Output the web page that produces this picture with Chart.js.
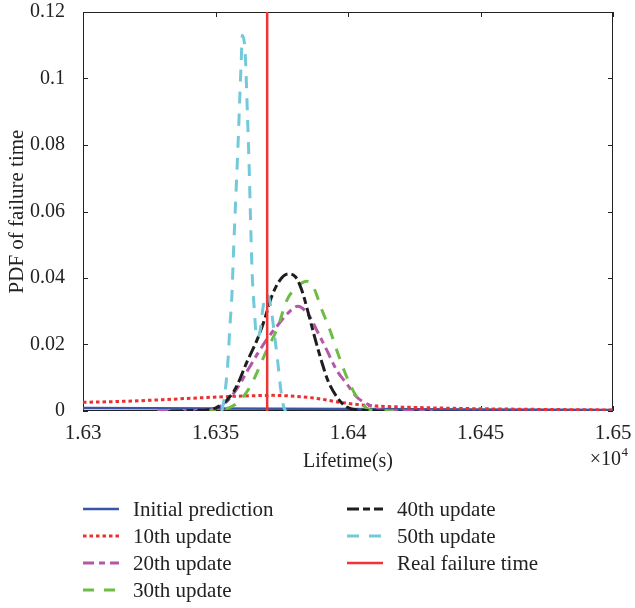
<!DOCTYPE html>
<html>
<head>
<meta charset="utf-8">
<script src="https://cdn.jsdelivr.net/npm/chart.js@4/dist/chart.umd.min.js"></script>
<style>
  body { margin: 0; background: #fff; }
  #wrap { width: 635px; height: 608px; }
</style>
</head>
<body>
<div id="wrap"><canvas id="pdf-canvas" width="635" height="608"></canvas></div>
<script>
// tick labels (lifetime is shown in units of 1e4 s)
const xTickValues = [16300, 16350, 16400, 16450, 16500];
const xTickLabels = ['1.63', '1.635', '1.64', '1.645', '1.65'];
const yTickValues = [0, 0.02, 0.04, 0.06, 0.08, 0.1, 0.12];
const yTickLabels = ['0', '0.02', '0.04', '0.06', '0.08', '0.1', '0.12'];

const seriesNames = ['Initial prediction', '10th update', '20th update', '30th update',
  '40th update', '50th update', 'Real failure time'];

const initialX = [16300, 16400, 16500];
const initialY = [0.0009, 0.0006, 0.0003];

const update10X = [16300, 16315, 16330, 16345, 16360, 16372, 16382, 16389, 16394, 16398, 16407, 16420, 16440, 16470, 16500];
const update10Y = [0.0026, 0.0029, 0.0034, 0.0040, 0.0045, 0.0047, 0.0043, 0.0037, 0.0030, 0.0025, 0.0017, 0.0012, 0.0008, 0.0005, 0.0003];

const update20X = [16328, 16344, 16350, 16354.7, 16358.4, 16362.2, 16366, 16369.7, 16373.5, 16377.3, 16381.1, 16385.6, 16388.2, 16392, 16395.7, 16399.5, 16403.3, 16408.3, 16413.2, 16432];
const update20Y = [0, 0.0002, 0.0008, 0.0032, 0.0071, 0.0123, 0.0174, 0.0219, 0.0258, 0.0294, 0.0315, 0.0283, 0.0243, 0.0183, 0.0123, 0.0082, 0.0042, 0.0017, 0.0002, 0];

const update30X = [16346, 16351.6, 16358, 16362.9, 16369.3, 16373.5, 16376.9, 16380.6, 16384.5, 16386.8, 16390.2, 16393.2, 16396.2, 16399.6, 16403.4, 16409.1, 16421];
const update30Y = [0, 0.0003, 0.0023, 0.0071, 0.0182, 0.0252, 0.0333, 0.0372, 0.0390, 0.0375, 0.0303, 0.0243, 0.0173, 0.0101, 0.0041, 0.0002, 0];

const update40X = [16333, 16344, 16350, 16357, 16362, 16366, 16368.5, 16371, 16374, 16377.4, 16380, 16382.5, 16385, 16387.5, 16390, 16392.5, 16396, 16399.5, 16405, 16414];
const update40Y = [0, 0.0002, 0.0009, 0.0060, 0.0150, 0.0220, 0.0275, 0.0340, 0.0390, 0.0412, 0.0405, 0.0365, 0.0295, 0.0220, 0.0150, 0.0090, 0.0040, 0.0012, 0.0002, 0];

const update50X = [16352.4, 16353.5, 16354.7, 16355.4, 16356.2, 16356.9, 16357.7, 16358.5, 16359.2, 16359.7, 16360.1, 16361.2, 16362, 16362.7, 16363.2, 16363.8, 16364.6, 16365.6, 16366.8, 16367.9, 16369, 16370.2, 16371.3, 16372.4, 16373.6, 16374.7, 16375.8, 16376.6];
const update50Y = [0, 0.005, 0.015, 0.025, 0.035, 0.050, 0.065, 0.080, 0.095, 0.105, 0.113, 0.1076, 0.0905, 0.0734, 0.0583, 0.042, 0.031, 0.022, 0.024, 0.031, 0.035, 0.034, 0.029, 0.022, 0.014, 0.006, 0.001, 0];

const realX = [16369.5, 16369.5];
const realY = [0, 0.12];

const FONT = 'Liberation Serif';
const INK = '#222222';

function toPoints(xs, ys) {
  return xs.map((x, i) => ({x: x, y: ys[i]}));
}

const seriesData = [
  toPoints(initialX, initialY),
  toPoints(update10X, update10Y),
  toPoints(update20X, update20Y),
  toPoints(update30X, update30Y),
  toPoints(update40X, update40Y),
  toPoints(update50X, update50Y),
  toPoints(realX, realY)
];

const lineStyles = [
  {color: '#3a55a8', width: 2.5, dash: []},
  {color: '#ec3030', width: 3, dash: [3.5, 3]},
  {color: '#b557a8', width: 3, dash: [11, 5, 6, 5]},
  {color: '#6cbd45', width: 3, dash: [11, 10]},
  {color: '#1e1e1e', width: 3, dash: [12, 4, 7, 4]},
  {color: '#72c9d9', width: 3, dash: [12, 10]},
  {color: '#ee3434', width: 2.5, dash: []}
];

// MATLAB style box with inward ticks
const axesBox = {
  id: 'axesBox',
  beforeDatasetsDraw(chart) {
    const {ctx, chartArea: a, scales: {x, y}} = chart;
    ctx.save();
    ctx.strokeStyle = INK;
    ctx.lineWidth = 1;
    ctx.strokeRect(Math.round(a.left) + 0.5, Math.round(a.top) + 0.5,
      Math.round(a.width) - 1, Math.round(a.height) - 1);
    ctx.beginPath();
    x.ticks.forEach(t => {
      const px = Math.round(x.getPixelForValue(t.value)) + 0.5;
      ctx.moveTo(px, a.bottom); ctx.lineTo(px, a.bottom - 5);
      ctx.moveTo(px, a.top); ctx.lineTo(px, a.top + 5);
    });
    y.ticks.forEach(t => {
      const py = Math.round(y.getPixelForValue(t.value)) + 0.5;
      ctx.moveTo(a.left, py); ctx.lineTo(a.left + 5, py);
      ctx.moveTo(a.right, py); ctx.lineTo(a.right - 5, py);
    });
    ctx.stroke();
    ctx.restore();
  },
  afterDraw(chart) {
    const {ctx, chartArea: a} = chart;
    ctx.save();
    ctx.fillStyle = INK;
    // exponent note under the x axis
    ctx.textBaseline = 'alphabetic';
    ctx.textAlign = 'right';
    ctx.font = '13px "' + FONT + '"';
    ctx.fillText('4', a.right + 15, a.bottom + 45);
    ctx.font = '20px "' + FONT + '"';
    ctx.fillText('\u00d710', a.right + 8, a.bottom + 54);

    // legend in two columns
    ctx.font = '21px "' + FONT + '"';
    ctx.textAlign = 'left';
    ctx.textBaseline = 'middle';
    chart.data.datasets.forEach((ds, i) => {
      const col = i < 4 ? 0 : 1;
      const row = i < 4 ? i : i - 4;
      const x0 = a.left + col * 264;
      const y0 = a.bottom + 98 + row * 27;
      ctx.beginPath();
      ctx.setLineDash(ds.borderDash);
      ctx.strokeStyle = ds.borderColor;
      ctx.lineWidth = ds.borderWidth;
      ctx.moveTo(x0, y0);
      ctx.lineTo(x0 + 36, y0);
      ctx.stroke();
      ctx.setLineDash([]);
      ctx.fillText(ds.label, x0 + 50, y0 + 1);
    });
    ctx.restore();
  }
};

Chart.defaults.font.family = FONT;
Chart.defaults.color = INK;

const chartEl = document.getElementById('pdf-canvas');
const pdfChart = new Chart(chartEl.getContext('2d'), {
  type: 'line',
  data: {
    datasets: seriesData.map((pts, i) => ({
      label: seriesNames[i],
      data: pts,
      borderColor: lineStyles[i].color,
      backgroundColor: lineStyles[i].color,
      borderWidth: lineStyles[i].width,
      borderDash: lineStyles[i].dash,
      borderCapStyle: 'butt',
      pointRadius: 0,
      fill: false,
      cubicInterpolationMode: i === 6 ? 'default' : 'monotone',
      tension: i === 6 ? 0 : 0.4,
      order: 6 - i
    }))
  },
  options: {
    responsive: false,
    animation: false,
    events: [],
    layout: {padding: {top: 12, right: 22, left: 0, bottom: 134}},
    plugins: {legend: {display: false}, tooltip: {enabled: false}},
    scales: {
      x: {
        type: 'linear',
        min: 16300,
        max: 16500,
        afterBuildTicks: scale => { scale.ticks = xTickValues.map(v => ({value: v})); },
        afterFit: scale => {
          scale.height = 63;
          scale.paddingLeft = 0;
          scale.paddingRight = 0;
        },
        ticks: {
          font: {size: 21},
          color: INK,
          padding: 2,
          maxRotation: 0,
          callback: (v, idx) => xTickLabels[idx]
        },
        grid: {display: false},
        border: {display: false},
        title: {display: true, text: 'Lifetime(s)', font: {size: 20}, color: INK, padding: {top: 0, bottom: 0}}
      },
      y: {
        type: 'linear',
        min: 0,
        max: 0.12,
        afterBuildTicks: scale => { scale.ticks = yTickValues.map(v => ({value: v})); },
        afterFit: scale => {
          scale.width = 83;
          scale.paddingTop = 0;
          scale.paddingBottom = 0;
        },
        ticks: {
          font: {size: 20},
          color: INK,
          padding: 10,
          callback: (v, idx) => yTickLabels[idx]
        },
        grid: {display: false},
        border: {display: false},
        title: {display: true, text: 'PDF of failure time', font: {size: 21}, color: INK, padding: {top: 5, bottom: 0}}
      }
    }
  },
  plugins: [axesBox]
});
</script>
</body>
</html>
